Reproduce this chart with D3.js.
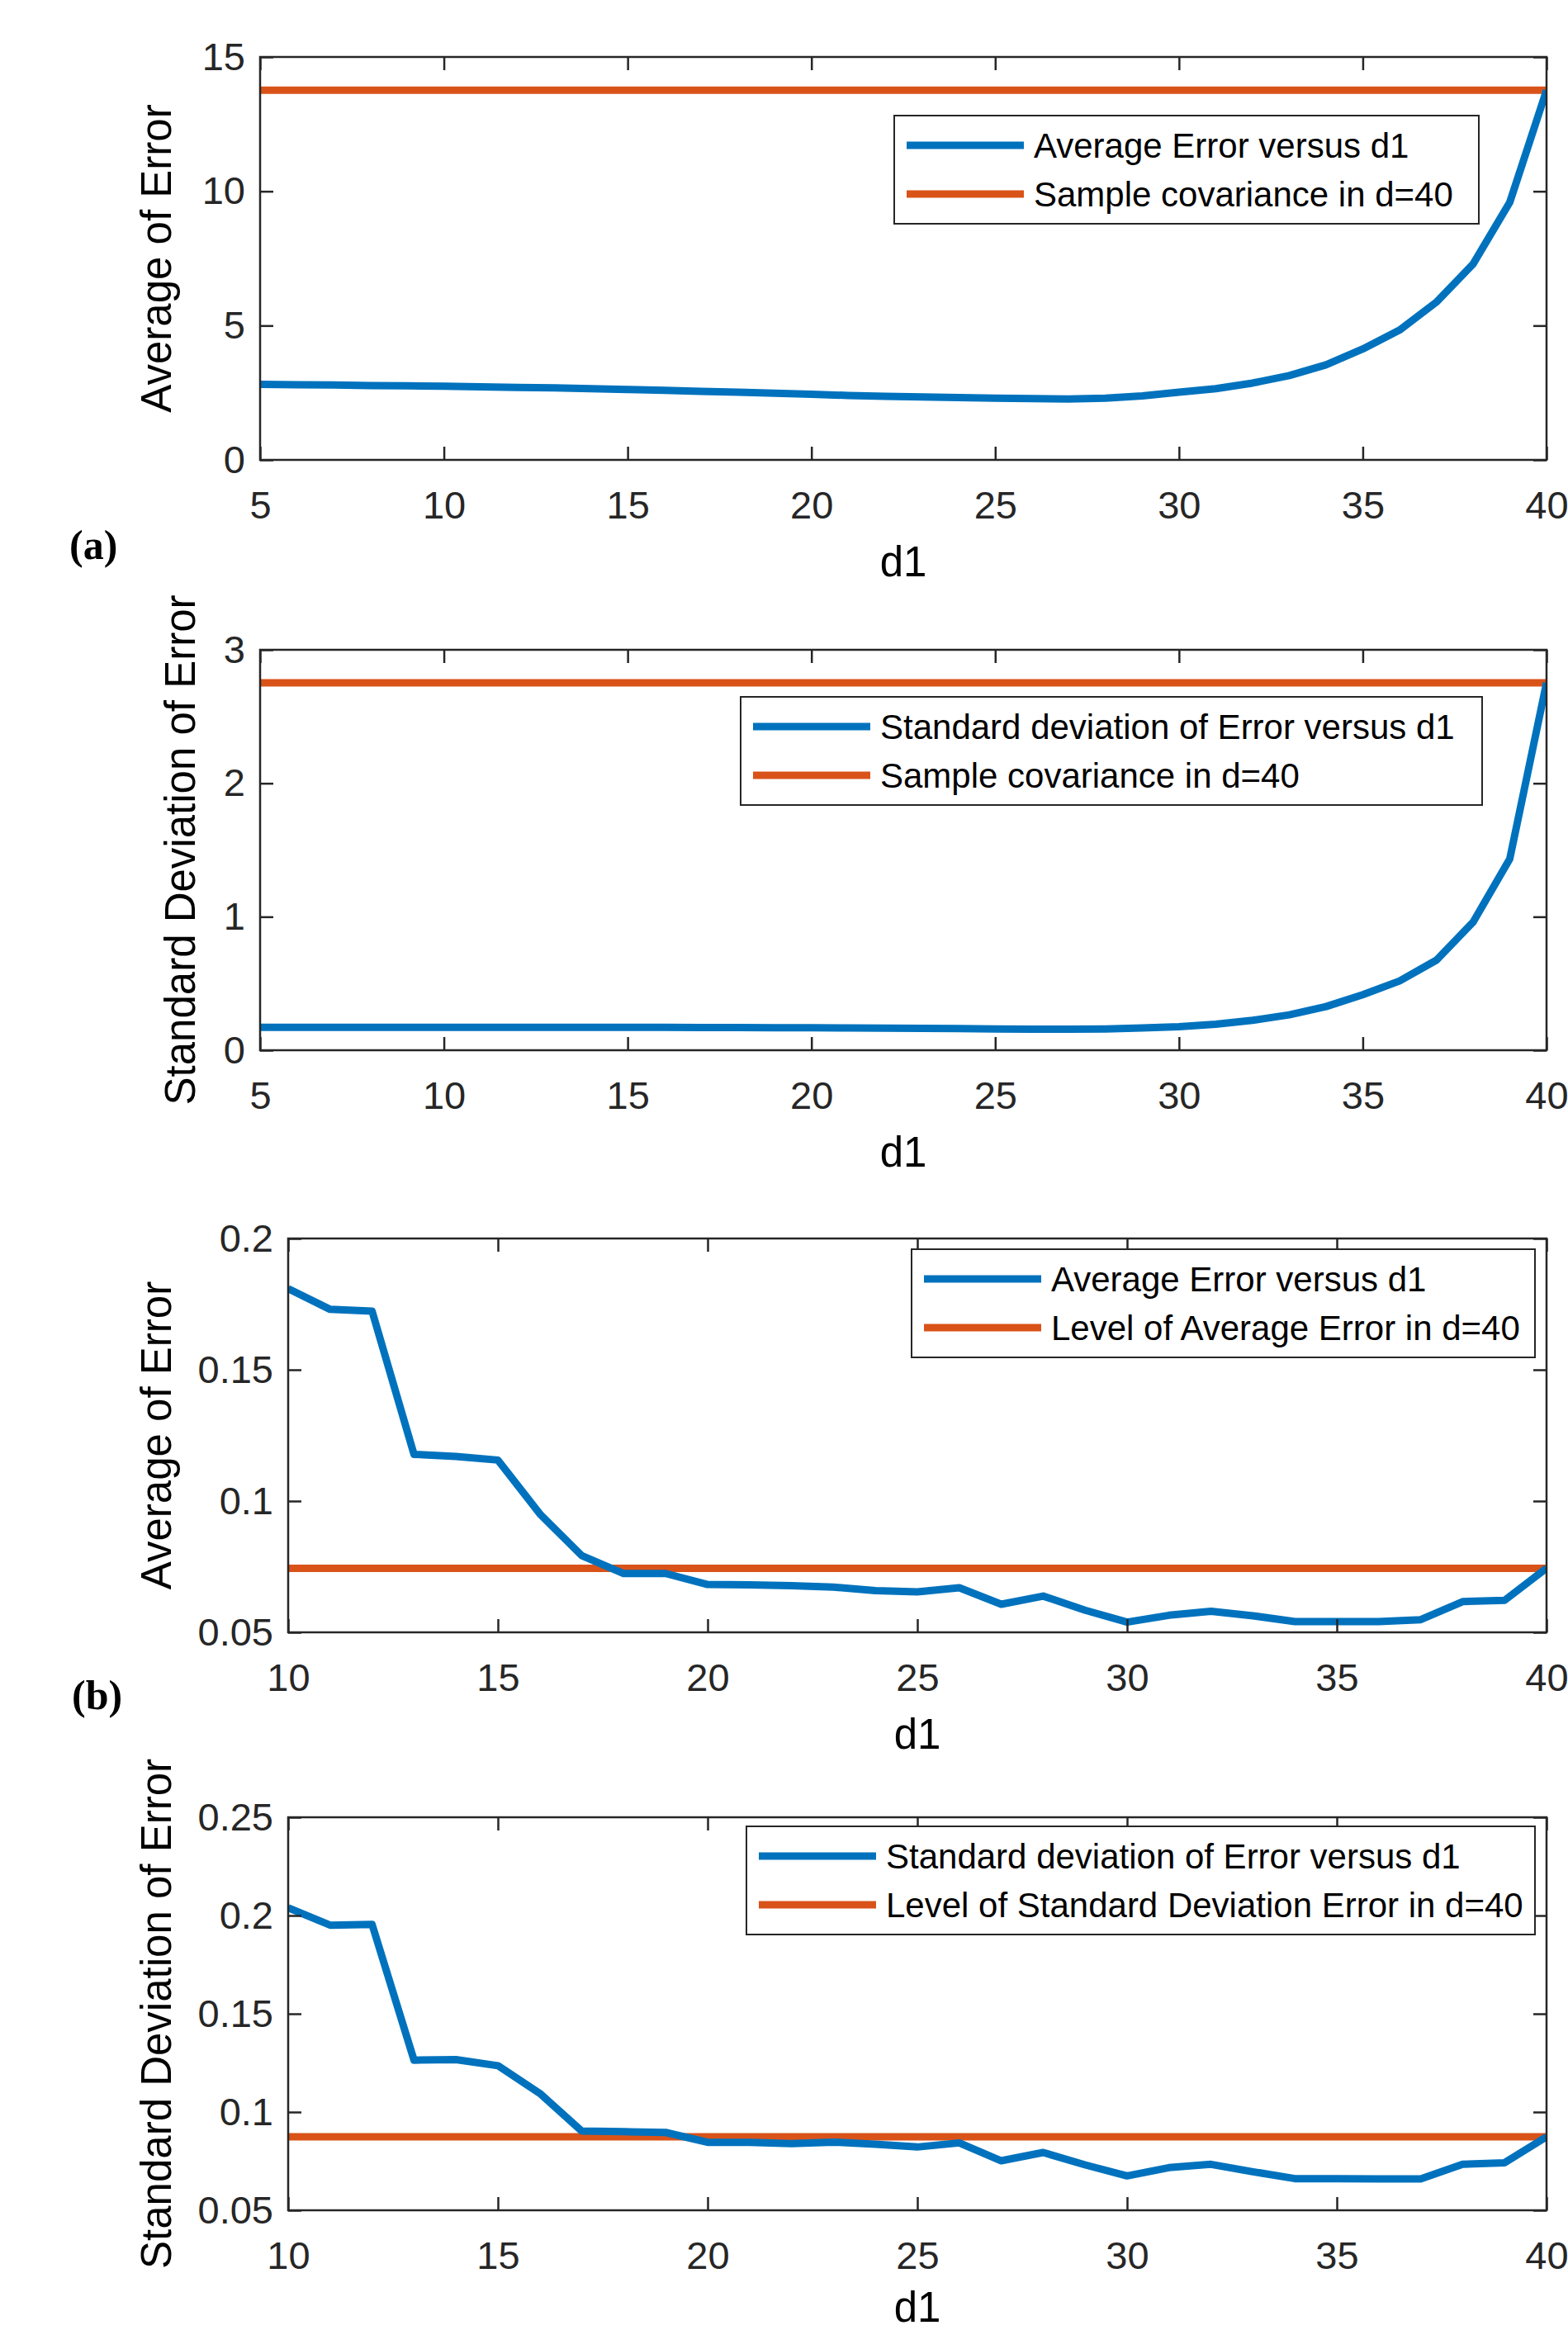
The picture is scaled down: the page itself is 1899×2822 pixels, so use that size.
<!DOCTYPE html>
<html>
<head>
<meta charset="utf-8">
<script src="https://cdn.jsdelivr.net/npm/d3@7"></script>
<style>
  body { margin: 0; background: #fff; }
  text { font-family: "Liberation Sans", Arial, sans-serif; fill: #000; }
  .tick text { fill: #262626; }
</style>
</head>
<body>
<div id="canvas"></div>
<script>
// ---------------- data ----------------
const d1Wide = [5, 6, 7, 8, 9, 10, 11, 12, 13, 14, 15, 16, 17, 18, 19, 20, 21, 22,
    23, 24, 25, 26, 27, 28, 29, 30, 31, 32, 33, 34, 35, 36, 37, 38, 39, 40];
const d1Narrow = [10, 11, 12, 13, 14, 15, 16, 17, 18, 19, 20, 21, 22, 23, 24, 25,
    26, 27, 28, 29, 30, 31, 32, 33, 34, 35, 36, 37, 38, 39, 40];

const avgErrWide = [2.81, 2.80, 2.79, 2.77, 2.76, 2.74, 2.72, 2.70, 2.68, 2.65, 2.62,
    2.59, 2.55, 2.52, 2.48, 2.44, 2.40, 2.37, 2.34, 2.32, 2.30, 2.28, 2.27, 2.30, 2.38,
    2.52, 2.65, 2.86, 3.14, 3.54, 4.13, 4.83, 5.87, 7.29, 9.59, 13.76];
const stdErrWide = [0.172, 0.172, 0.172, 0.172, 0.172, 0.172, 0.172, 0.172, 0.172, 0.172,
    0.171, 0.171, 0.170, 0.170, 0.169, 0.168, 0.167, 0.165, 0.164, 0.162, 0.160, 0.158,
    0.157, 0.160, 0.167, 0.177, 0.195, 0.224, 0.265, 0.327, 0.416, 0.519, 0.674, 0.959,
    1.434, 2.753];
const avgErrNarrow = [0.1809, 0.1730, 0.1723, 0.1178, 0.1170, 0.1156, 0.0951, 0.0792,
    0.0724, 0.0724, 0.0682, 0.0681, 0.0678, 0.0672, 0.0659, 0.0654, 0.0670, 0.0607,
    0.0638, 0.0584, 0.0539, 0.0565, 0.0580, 0.0563, 0.0541, 0.0541, 0.0541, 0.0548,
    0.0617, 0.0622, 0.0744];
const stdErrNarrow = [0.2039, 0.1951, 0.1955, 0.1264, 0.1267, 0.1236, 0.1095, 0.0903,
    0.0900, 0.0896, 0.0846, 0.0846, 0.0839, 0.0847, 0.0836, 0.0822, 0.0843, 0.0752,
    0.0794, 0.0731, 0.0675, 0.0717, 0.0734, 0.0696, 0.0661, 0.0661, 0.0660, 0.0660,
    0.0734, 0.0742, 0.0874];

// reference levels at d=40
const levels = [13.76, 2.753, 0.0744, 0.0874];

const xTicksWide = [5, 10, 15, 20, 25, 30, 35, 40];
const xTicksNarrow = [10, 15, 20, 25, 30, 35, 40];
const yTicks = [
    [0, 5, 10, 15],
    [0, 1, 2, 3],
    [0.05, 0.1, 0.15, 0.2],
    [0.05, 0.1, 0.15, 0.2, 0.25]
];
const yTickLabels = [
    ["0", "5", "10", "15"],
    ["0", "1", "2", "3"],
    ["0.05", "0.1", "0.15", "0.2"],
    ["0.05", "0.1", "0.15", "0.2", "0.25"]
];
const yLabels = ["Average of Error", "Standard Deviation of Error",
    "Average of Error", "Standard Deviation of Error"];
const legendTexts = [
    ["Average Error versus d1", "Sample covariance in d=40"],
    ["Standard deviation of Error versus d1", "Sample covariance in d=40"],
    ["Average Error versus d1", "Level of Average Error in d=40"],
    ["Standard deviation of Error versus d1", "Level of Standard Deviation Error in d=40"]
];

// ---------------- layout ----------------
const width = 1899;
const height = 2822;
const blue = "#0072BD";
const red = "#D95319";
const axisColor = "#262626";

const panels = [
    {x: d1Wide, y: avgErrWide, xTicks: xTicksWide, left: 315, right: 1873, top: 69, bottom: 557,
     legend: {x: 1083, y: 140, w: 708}, ylabelX: 207, xlabelDy: 141},
    {x: d1Wide, y: stdErrWide, xTicks: xTicksWide, left: 315, right: 1873, top: 787, bottom: 1272,
     legend: {x: 897, y: 844, w: 898}, ylabelX: 236, xlabelDy: 141},
    {x: d1Narrow, y: avgErrNarrow, xTicks: xTicksNarrow, left: 349, right: 1873, top: 1500, bottom: 1977,
     legend: {x: 1104, y: 1513, w: 755}, ylabelX: 207, xlabelDy: 141},
    {x: d1Narrow, y: stdErrNarrow, xTicks: xTicksNarrow, left: 349, right: 1873, top: 2201, bottom: 2677,
     legend: {x: 904, y: 2212, w: 955}, ylabelX: 207, xlabelDy: 135}
];

const svg = d3.select("#canvas").append("svg")
    .attr("width", width)
    .attr("height", height);
svg.append("rect").attr("width", width).attr("height", height).attr("fill", "#fff");

panels.forEach((p, i) => {
    const iw = p.right - p.left;
    const ih = p.bottom - p.top;
    const yt = yTicks[i];

    const x = d3.scaleLinear()
        .domain([p.xTicks[0], p.xTicks[p.xTicks.length - 1]])
        .range([0, iw]);
    const y = d3.scaleLinear()
        .domain([yt[0], yt[yt.length - 1]])
        .range([ih, 0]);

    const g = svg.append("g").attr("transform", `translate(${p.left}, ${p.top})`);

    g.append("clipPath").attr("id", "clip" + i)
        .append("rect").attr("width", iw).attr("height", ih);

    // data
    const plot = g.append("g").attr("clip-path", `url(#clip${i})`);
    const line = d3.line().x((d, k) => x(p.x[k])).y(d => y(d));

    plot.append("line")
        .attr("x1", x(p.x[0])).attr("x2", x(p.x[p.x.length - 1]))
        .attr("y1", y(levels[i])).attr("y2", y(levels[i]))
        .attr("stroke", red).attr("stroke-width", 9);

    plot.append("path")
        .datum(p.y)
        .attr("fill", "none")
        .attr("stroke", blue)
        .attr("stroke-width", 9)
        .attr("stroke-linejoin", "round")
        .attr("d", line);

    // axes, ticks pointing inwards on all sides
    const xb = g.append("g").attr("transform", `translate(0, ${ih})`)
        .call(d3.axisBottom(x).tickValues(p.xTicks).tickSize(-16).tickPadding(38).tickSizeOuter(0));
    g.append("g")
        .call(d3.axisTop(x).tickValues(p.xTicks).tickSize(-16).tickFormat("").tickSizeOuter(0));
    const yl = g.append("g")
        .call(d3.axisLeft(y).tickValues(yt).tickSize(-16).tickPadding(18).tickSizeOuter(0)
            .tickFormat((d, k) => yTickLabels[i][k]));
    g.append("g").attr("transform", `translate(${iw}, 0)`)
        .call(d3.axisRight(y).tickValues(yt).tickSize(-16).tickFormat("").tickSizeOuter(0));

    g.selectAll(".domain").remove();
    g.selectAll(".tick line").attr("stroke", axisColor).attr("stroke-width", 2.5);
    xb.selectAll("text").style("font-size", "47px");
    yl.selectAll("text").style("font-size", "47px");

    g.append("rect")
        .attr("width", iw).attr("height", ih)
        .attr("fill", "none")
        .attr("stroke", axisColor)
        .attr("stroke-width", 2.5);

    // axis labels
    g.append("text")
        .attr("text-anchor", "middle")
        .style("font-size", "51px")
        .attr("x", iw / 2)
        .attr("y", ih + p.xlabelDy)
        .text("d1");

    svg.append("text")
        .attr("text-anchor", "middle")
        .style("font-size", "51px")
        .attr("transform", `translate(${p.ylabelX}, ${p.top + ih / 2}) rotate(-90)`)
        .text(yLabels[i]);

    // legend
    const lg = svg.append("g").attr("transform", `translate(${p.legend.x}, ${p.legend.y})`);
    lg.append("rect")
        .attr("width", p.legend.w).attr("height", 131)
        .attr("fill", "#fff")
        .attr("stroke", axisColor)
        .attr("stroke-width", 2);
    [blue, red].forEach((c, k) => {
        const ry = 36 + k * 59;
        lg.append("line")
            .attr("x1", 15).attr("x2", 157)
            .attr("y1", ry).attr("y2", ry)
            .attr("stroke", c).attr("stroke-width", 9);
        lg.append("text")
            .attr("x", 169)
            .attr("y", ry + 15)
            .style("font-size", "42px")
            .text(legendTexts[i][k]);
    });
});

// panel tags
svg.append("text")
    .attr("x", 84).attr("y", 677)
    .style("font-family", "'Liberation Serif', 'Times New Roman', serif")
    .style("font-weight", "bold")
    .style("font-size", "50px")
    .text("(a)");
svg.append("text")
    .attr("x", 87).attr("y", 2070)
    .style("font-family", "'Liberation Serif', 'Times New Roman', serif")
    .style("font-weight", "bold")
    .style("font-size", "50px")
    .text("(b)");
</script>
</body>
</html>
